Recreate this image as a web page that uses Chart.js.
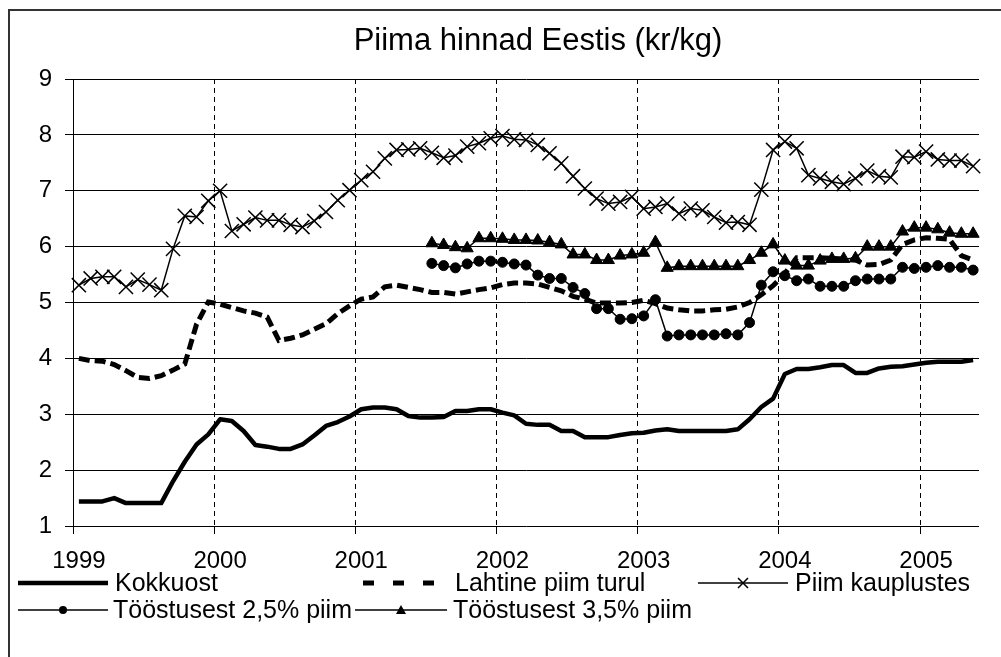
<!DOCTYPE html>
<html>
<head>
<meta charset="utf-8">
<script src="https://cdn.jsdelivr.net/npm/chart.js@4.4.1/dist/chart.umd.min.js"></script>
<style>
html,body{margin:0;padding:0;background:#fff;}
canvas{display:block;}
</style>
</head>
<body>
<canvas id="c" width="1001" height="657"></canvas>
<script>
const months = [
 '1999-01','1999-02','1999-03','1999-04','1999-05','1999-06','1999-07','1999-08','1999-09','1999-10','1999-11','1999-12',
 '2000-01','2000-02','2000-03','2000-04','2000-05','2000-06','2000-07','2000-08','2000-09','2000-10','2000-11','2000-12',
 '2001-01','2001-02','2001-03','2001-04','2001-05','2001-06','2001-07','2001-08','2001-09','2001-10','2001-11','2001-12',
 '2002-01','2002-02','2002-03','2002-04','2002-05','2002-06','2002-07','2002-08','2002-09','2002-10','2002-11','2002-12',
 '2003-01','2003-02','2003-03','2003-04','2003-05','2003-06','2003-07','2003-08','2003-09','2003-10','2003-11','2003-12',
 '2004-01','2004-02','2004-03','2004-04','2004-05','2004-06','2004-07','2004-08','2004-09','2004-10','2004-11','2004-12',
 '2005-01','2005-02','2005-03','2005-04','2005-05'
];
const yearLabels = ['1999','2000','2001','2002','2003','2004','2005'];
const titleText = 'Piima hinnad Eestis (kr/kg)';
const seriesNames = ['Kokkuost','Lahtine piim turul','Piim kauplustes','Tööstusest 2,5% piim','Tööstusest 3,5% piim'];

const kokkuost = [
 1.44,1.44,1.44,1.50,1.41,1.41,1.41,1.41,1.80,2.15,2.46,2.64,
 2.91,2.88,2.70,2.45,2.42,2.38,2.38,2.46,2.62,2.79,2.86,2.96,
 3.09,3.12,3.12,3.09,2.97,2.94,2.94,2.95,3.06,3.06,3.09,3.09,
 3.03,2.98,2.83,2.81,2.81,2.70,2.70,2.59,2.59,2.59,2.63,2.66,
 2.67,2.71,2.73,2.70,2.70,2.70,2.70,2.70,2.73,2.91,3.13,3.28,
 3.72,3.81,3.81,3.84,3.88,3.88,3.74,3.74,3.82,3.85,3.86,3.89,
 3.92,3.94,3.94,3.94,3.97
];
const lahtine = [
 4.00,3.96,3.95,3.89,3.78,3.66,3.64,3.69,3.79,3.90,4.61,5.01,
 4.97,4.91,4.85,4.81,4.74,4.32,4.36,4.42,4.52,4.62,4.80,4.94,
 5.06,5.10,5.28,5.31,5.27,5.23,5.18,5.18,5.15,5.19,5.23,5.26,
 5.32,5.35,5.35,5.33,5.27,5.21,5.11,5.06,4.99,4.99,4.99,5.00,
 5.04,4.98,4.90,4.87,4.85,4.85,4.87,4.88,4.92,5.00,5.14,5.30,
 5.52,5.80,5.80,5.80,5.79,5.78,5.76,5.67,5.68,5.76,6.04,6.12,
 6.16,6.15,6.13,5.84,5.76
];
const piimKauplustes = [
 5.31,5.43,5.46,5.46,5.28,5.41,5.32,5.22,5.96,6.55,6.53,6.82,
 7.00,6.28,6.40,6.52,6.47,6.47,6.39,6.35,6.46,6.62,6.83,7.01,
 7.19,7.34,7.58,7.73,7.74,7.76,7.68,7.59,7.63,7.79,7.85,7.94,
 7.98,7.92,7.91,7.82,7.67,7.49,7.26,7.04,6.86,6.77,6.80,6.89,
 6.68,6.71,6.77,6.59,6.68,6.65,6.53,6.43,6.44,6.39,7.02,7.73,
 7.88,7.76,7.28,7.22,7.16,7.12,7.22,7.36,7.26,7.24,7.61,7.60,
 7.70,7.56,7.54,7.54,7.44
];
const toostus25 = [
 null,null,null,null,null,null,null,null,null,null,null,null,
 null,null,null,null,null,null,null,null,null,null,null,null,
 null,null,null,null,null,null,5.70,5.66,5.62,5.69,5.74,5.74,
 5.72,5.69,5.67,5.49,5.43,5.43,5.27,5.16,4.89,4.89,4.70,4.71,
 4.76,5.05,4.40,4.42,4.42,4.42,4.42,4.44,4.42,4.64,5.31,5.55,
 5.48,5.39,5.42,5.29,5.29,5.29,5.39,5.42,5.42,5.42,5.63,5.61,
 5.63,5.66,5.63,5.63,5.58
];
const toostus35 = [
 null,null,null,null,null,null,null,null,null,null,null,null,
 null,null,null,null,null,null,null,null,null,null,null,null,
 null,null,null,null,null,null,6.06,6.03,5.99,5.97,6.15,6.15,
 6.14,6.12,6.12,6.11,6.08,6.04,5.86,5.86,5.76,5.76,5.84,5.86,
 5.89,6.08,5.62,5.65,5.65,5.65,5.65,5.65,5.65,5.76,5.89,6.04,
 5.75,5.66,5.66,5.75,5.78,5.78,5.79,6.00,6.00,6.00,6.27,6.34,
 6.34,6.31,6.25,6.23,6.23
];

const FONT = "'Liberation Sans', Arial, sans-serif";
const BLACK = '#000';

function drawX(ctx, x, y, r) {
  ctx.beginPath();
  ctx.moveTo(x - r, y - r); ctx.lineTo(x + r, y + r);
  ctx.moveTo(x - r, y + r); ctx.lineTo(x + r, y - r);
  ctx.stroke();
}

const decor = {
  id: 'decor',
  beforeDraw(chart) {
    const ctx = chart.ctx;
    ctx.save();
    ctx.fillStyle = '#fff';
    ctx.fillRect(0, 0, chart.width, chart.height);
    ctx.restore();
  },
  afterDraw(chart) {
    const ctx = chart.ctx;
    ctx.save();
    // outer frame
    ctx.strokeStyle = '#333';
    ctx.lineWidth = 2;
    ctx.beginPath();
    ctx.moveTo(9, 700); ctx.lineTo(9, 10); ctx.lineTo(1100, 10);
    ctx.stroke();
    // title
    ctx.fillStyle = BLACK;
    ctx.textAlign = 'center';
    ctx.textBaseline = 'middle';
    ctx.font = '31px ' + FONT;
    ctx.fillText(titleText, 538, 41);
    // legend
    const R1 = 583, R2 = 610;
    ctx.font = '25px ' + FONT;
    ctx.textAlign = 'left';
    ctx.strokeStyle = BLACK;
    ctx.lineCap = 'butt';
    // Kokkuost
    ctx.lineWidth = 4.5;
    ctx.beginPath(); ctx.moveTo(18, R1); ctx.lineTo(108, R1); ctx.stroke();
    ctx.fillText(seriesNames[0], 115, R1 + 1);
    // Lahtine
    [363, 393, 423].forEach(x => ctx.fillRect(x, R1 - 2.5, 11, 5));
    ctx.fillText(seriesNames[1], 455, R1 + 1);
    // Piim kauplustes
    ctx.lineWidth = 1.5;
    ctx.beginPath(); ctx.moveTo(698, R1); ctx.lineTo(788, R1); ctx.stroke();
    drawX(ctx, 743, R1, 5);
    ctx.fillText(seriesNames[2], 795, R1 + 1);
    // 2,5%
    ctx.beginPath(); ctx.moveTo(18, R2); ctx.lineTo(108, R2); ctx.stroke();
    ctx.beginPath(); ctx.arc(63, R2, 4, 0, Math.PI * 2); ctx.fill();
    ctx.fillText(seriesNames[3], 113, R2 + 1);
    // 3,5%
    ctx.beginPath(); ctx.moveTo(355, R2); ctx.lineTo(447, R2); ctx.stroke();
    ctx.beginPath(); ctx.moveTo(401, R2 - 5); ctx.lineTo(406, R2 + 4); ctx.lineTo(396, R2 + 4); ctx.closePath(); ctx.fill();
    ctx.fillText(seriesNames[4], 453, R2 + 1);
    ctx.restore();
  }
};

const yearGrid = c => (c.index !== undefined && c.index % 12 === 0) ? BLACK : 'rgba(0,0,0,0)';

new Chart(document.getElementById('c'), {
  type: 'line',
  data: {
    labels: months,
    datasets: [
      { label: seriesNames[0], data: kokkuost, borderColor: BLACK, borderWidth: 4.5, pointRadius: 0,
        borderJoinStyle: 'round', tension: 0, order: 5 },
      { label: seriesNames[1], data: lahtine, borderColor: BLACK, borderWidth: 5, borderDash: [11, 5],
        borderCapStyle: 'butt', pointRadius: 0, tension: 0, order: 4 },
      { label: seriesNames[2], data: piimKauplustes, borderColor: BLACK, borderWidth: 1.5, tension: 0,
        pointStyle: 'crossRot', pointRadius: 10, pointBorderWidth: 1.5, pointBorderColor: BLACK,
        pointBackgroundColor: BLACK, order: 3 },
      { label: seriesNames[3], data: toostus25, borderColor: BLACK, borderWidth: 1.5, tension: 0,
        pointStyle: 'circle', pointRadius: 5, pointBorderWidth: 1, pointBorderColor: BLACK,
        pointBackgroundColor: BLACK, order: 2 },
      { label: seriesNames[4], data: toostus35, borderColor: BLACK, borderWidth: 1.5, tension: 0,
        pointStyle: 'triangle', pointRadius: 7, pointBorderWidth: 1, pointBorderColor: BLACK,
        pointBackgroundColor: BLACK, order: 1 }
    ]
  },
  options: {
    responsive: false,
    animation: false,
    events: [],
    devicePixelRatio: 1,
    layout: { padding: { left: 0, right: 22, top: 79, bottom: 0 } },
    plugins: { legend: { display: false }, title: { display: false }, tooltip: { enabled: false } },
    scales: {
      x: {
        type: 'category',
        offset: true,
        grid: { offset: true, drawOnChartArea: true, color: yearGrid, tickColor: yearGrid,
                lineWidth: 1, tickLength: 8, tickWidth: 1 },
        border: { display: false, dash: [5, 4] },
        ticks: {
          autoSkip: false, maxRotation: 0, minRotation: 0, color: BLACK, padding: 13,
          font: { family: FONT, size: 24 },
          callback: (v, i) => (i % 12 === 0 ? yearLabels[i / 12] : '')
        },
        afterFit: s => { s.height = 131; }
      },
      y: {
        min: 1, max: 9,
        ticks: { stepSize: 1, color: BLACK, padding: 13, font: { family: FONT, size: 24 } },
        grid: { color: BLACK, lineWidth: 1, tickLength: 8, tickColor: BLACK },
        border: { display: true, color: BLACK, width: 1 },
        afterFit: s => { s.width = 73; }
      }
    }
  },
  plugins: [decor]
});
</script>
</body>
</html>
